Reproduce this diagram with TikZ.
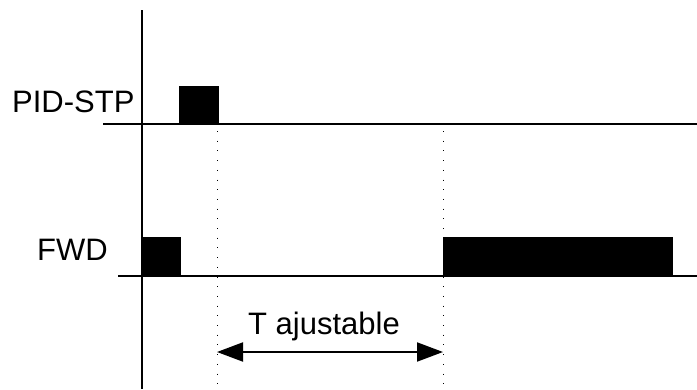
\documentclass[tikz,border=0pt]{standalone}
\usepackage{fontspec}
\setmainfont{Liberation Sans}
\usetikzlibrary{arrows.meta}
\begin{document}
\begin{tikzpicture}[x=1pt,y=-1pt,
  lbl/.style={inner sep=0pt,anchor=base west,font=\fontsize{31}{31}\selectfont},
  sigline/.style={line width=1.4pt},
  pulse/.style={fill=black,draw=black,line width=0.5pt},
  guide/.style={line width=0.8pt,dash pattern=on 0.9pt off 8.8pt},
  dim/.style={line width=2pt,{Triangle[length=26pt,width=19pt]}-{Triangle[length=26pt,width=19pt]}}]
\useasboundingbox (0,0) rectangle (697,389);
% axis
\draw[line width=2pt] (142,10) -- (142,389);
% baselines
\draw[sigline] (103,124) -- (697,124);
\draw[sigline] (118,276) -- (697,276);
% pulses
\fill[pulse] (179,86) rectangle (218,124);
\fill[pulse] (142,237) rectangle (180,276);
\fill[pulse] (443,237) rectangle (672,276);
% guides
\draw[guide] (217,131) -- (217,389);
\draw[guide] (443,131) -- (443,389);
% labels
\node[lbl] (pid) at (12,112) {PID-STP};
\node[lbl] (fwd) at (37,260) {FWD};
\node[lbl] (tadj) at (248,334) {T ajustable};
% dimension arrow
\coordinate (a1) at (217,352);
\coordinate (a2) at (443,352);
\draw[dim] (a1) -- (a2);
\end{tikzpicture}
\end{document}
